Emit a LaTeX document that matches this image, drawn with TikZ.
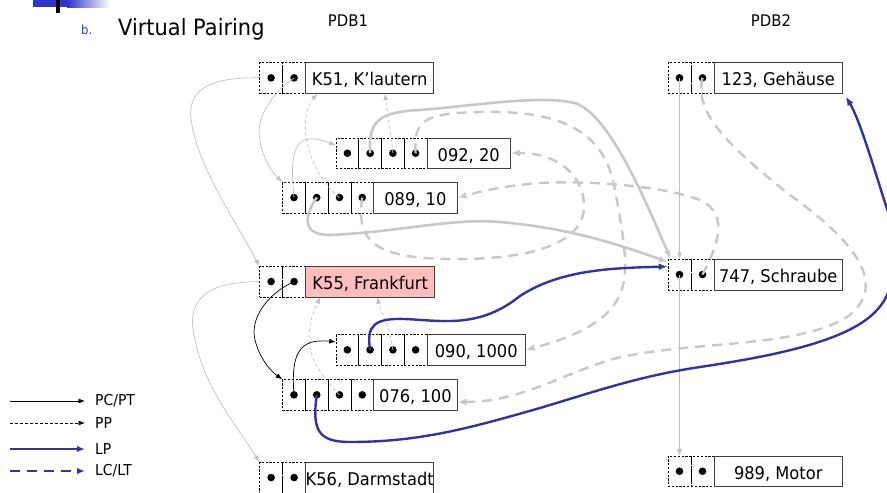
\documentclass[tikz,border=0pt]{standalone}
\usepackage{fontspec}
\setmainfont{DejaVu Sans}[FakeStretch=0.93]
\usetikzlibrary{arrows.meta}

\definecolor{lpblue}{RGB}{51,51,153}
\definecolor{hdblue}{RGB}{51,51,204}
\definecolor{thingray}{RGB}{192,192,192}
\definecolor{thickgray}{RGB}{200,200,200}
\definecolor{kpink}{RGB}{255,189,189}

\tikzset{
  cellbox/.style={draw=black, line width=0.6pt, dash pattern=on 2.2pt off 1.6pt,
    minimum height=30.5pt, inner sep=0pt, anchor=north west,
    path picture={\fill[black] (path picture bounding box.center) circle (3.8pt);}},
  labelbox/.style={draw=black!75, line width=0.8pt, minimum height=30.5pt,
    inner xsep=0pt, inner ysep=0pt, text height=16pt, text depth=0.6pt,
    anchor=north west, font=\fontsize{17.5}{20}\selectfont},
  thinarr/.style={-{Latex[length=6.5pt,width=5pt]}, line width=0.7pt},
  pcg/.style={thinarr, draw=thingray},
  ppg/.style={thinarr, draw=thingray, dash pattern=on 3.5pt off 2.5pt},
  pcb/.style={thinarr, draw=black},
  ppb/.style={thinarr, draw=black, dash pattern=on 3pt off 2pt},
  thickarr/.style={-{Latex[length=9pt,width=7pt]}, line width=2.4pt},
  lpg/.style={thickarr, draw=thickgray, line width=2.6pt},
  lcg/.style={thickarr, draw=thickgray, dash pattern=on 10pt off 7pt},
  lpb/.style={thickarr, draw=lpblue},
  lcb/.style={thickarr, draw=lpblue, dash pattern=on 10pt off 7pt},
  legtext/.style={anchor=west, inner sep=0pt, font=\fontsize{15}{18}\selectfont},
}

% record: [label fill]{name}{x}{top y}{cells}{cell width}{label width}{label}
\newcommand{\rec}[8][white]{%
  \foreach \i in {1,...,#5}{%
    \node[cellbox, minimum width=#6pt] (#2c\i) at ({#3+(\i-1)*#6},#4) {};
  }%
  \node[labelbox, fill=#1, minimum width=#7pt] (#2l) at ({#3+#5*#6},#4) {#8};
}

\begin{document}
\begin{tikzpicture}[x=1pt,y=-1pt]
\useasboundingbox (0,0) rectangle (887,493);

% header decoration
\fill[hdblue] (33,0) rectangle (67,7);
\shade[left color=hdblue, right color=white] (67,0) rectangle (110,7);
\fill[black] (56,0) rectangle (60,12.7);
\node[anchor=base west, inner sep=0pt, text=hdblue, font=\fontsize{12.5}{14}\selectfont] (bmark) at (81,34.5) {b.};
\node[anchor=base west, inner sep=0pt, font=\fontsize{22.5}{26}\selectfont] (title) at (118,35) {Virtual Pairing};
\node[anchor=base, inner sep=0pt, font=\fontsize{16}{18}\selectfont] (pdb1) at (348,26) {PDB1};
\node[anchor=base, inner sep=0pt, font=\fontsize{16}{18}\selectfont] (pdb2) at (771,26) {PDB2};

% records of PDB1
\rec{k51}{259.3}{62.3}{2}{23}{128}{K51, K’lautern}
\rec{r092}{335.7}{137.7}{4}{22.75}{83.3}{092, 20}
\rec{r089}{282.3}{182}{4}{22.75}{83.4}{089, 10}
\rec[kpink]{k55}{259.3}{266}{2}{23}{129}{K55, Frankfurt}
\rec{r090}{335.7}{334.3}{4}{22.75}{98.3}{090, 1000}
\rec{r076}{282.3}{379.3}{4}{22.75}{83.4}{076, 100}
\rec{k56}{259.3}{462}{2}{23}{128}{K56, Darmstadt}

% records of PDB2
\rec{r123}{667.7}{62.3}{2}{23}{128.3}{123, Gehäuse}
\rec{r747}{667.7}{259}{2}{23}{128.3}{747, Schraube}
\rec{r989}{667.7}{455.7}{2}{23}{128.3}{989, Motor}

% ---- faded PC/PT links
\draw[pcg] (k51c1.west) .. controls (205,77) and (185,92) .. (192,125)
  .. controls (200,170) and (235,220) .. (k55c1.north west);
\draw[pcg] (k51c2.center) .. controls (270,95) and (255,120) .. (260,140)
  .. controls (263,160) and (272,172) .. (r089c1.north west);
\draw[pcg] (r089c1.center) .. controls (288,140) and (300,132) .. ([yshift=8pt]r092c1.west);
\draw[pcg] (k55c1.west) .. controls (205,282) and (185,300) .. (195,340)
  .. controls (205,390) and (240,430) .. (k56c1.north west);
\draw[pcg] (r123c1.center) -- (r747c1.north);
\draw[pcg] (r747c1.center) -- (r989c1.north);

% ---- faded PP links
\draw[ppg] (r089c3.center) .. controls (310,175) and (295,120) .. ([xshift=12pt]k51l.south west);
\draw[ppg] (r092c3.center) .. controls (390,125) and (386,105) .. ([xshift=80pt]k51l.south west);
\draw[ppg] (r076c3.center) .. controls (310,365) and (300,340) .. ([xshift=15pt]k55l.south west);
\draw[ppg] (r090c3.center) .. controls (390,325) and (380,310) .. ([xshift=72pt]k55l.south west);

% ---- faded LP links
\draw[lpg] (r092c2.center) .. controls (368,120) and (380,112) .. (420,110)
  .. controls (480,105) and (540,95) .. (575,103)
  .. controls (610,115) and (645,200) .. ([xshift=3pt]r747c1.north west);
\draw[lpg] (r089c2.center) .. controls (305,215) and (300,235) .. (330,235)
  .. controls (400,232) and (450,218) .. (500,222)
  .. controls (570,228) and (620,245) .. ([yshift=-3pt]r747c1.north west);

% ---- faded LC/LT links
\draw[lcg] (r123c2.center) .. controls (695,110) and (720,140) .. (790,195)
  .. controls (860,245) and (885,285) .. (850,315)
  .. controls (800,350) and (680,340) .. (610,360)
  .. controls (560,375) and (520,402) .. ([yshift=-7pt]r076l.east);
\draw[lcg] (r747c2.center) .. controls (715,250) and (732,215) .. (700,200)
  .. controls (670,188) and (600,180) .. (540,183)
  .. controls (500,186) and (475,193) .. (r089l.east);
\draw[lcg] (r089c4.center) .. controls (355,245) and (380,258) .. (450,259)
  .. controls (540,260) and (585,240) .. (584,205)
  .. controls (583,170) and (550,152) .. (r092l.east);
\draw[lcg] (r092c4.center) .. controls (413,120) and (425,113) .. (480,112)
  .. controls (560,110) and (605,130) .. (615,190)
  .. controls (628,260) and (632,290) .. (605,315)
  .. controls (585,333) and (555,342) .. (r090l.east);

% ---- highlighted PC/PT path
\draw[pcb] (k55c2.center) .. controls (265,295) and (250,320) .. (255,340)
  .. controls (260,360) and (272,372) .. (r076c1.north west);
\draw[pcb] (r076c1.center) .. controls (291,355) and (298,338) .. ([yshift=8pt]r090c1.west);

% ---- highlighted LP links
\draw[lpb] (r090c2.center) .. controls (366,325) and (375,318) .. (405,319)
  .. controls (445,321) and (480,328) .. (520,296)
  .. controls (560,270) and (610,268) .. ([yshift=8pt]r747c1.west);
\draw[lpb] (r076c2.center) .. controls (312,430) and (318,442) .. (350,442)
  .. controls (420,442) and (470,428) .. (540,408)
  .. controls (600,390) and (640,376) .. (700,367)
  .. controls (780,355) and (850,340) .. (877,310)
  .. controls (898,288) and (902,240) .. (888,212)
  .. controls (876,175) and (860,120) .. ([xshift=3pt,yshift=-3pt]r123l.south east);

% ---- legend
\coordinate (lgaA) at (10,401);  \coordinate (lgaB) at (85,401);
\coordinate (lgbA) at (10,423);  \coordinate (lgbB) at (85,423);
\coordinate (lgcA) at (10,449);  \coordinate (lgcB) at (85,449);
\coordinate (lgdA) at (10,471);  \coordinate (lgdB) at (85,471);
\draw[pcb] (lgaA) -- (lgaB);
\draw[ppb] (lgbA) -- (lgbB);
\draw[lpb, line width=2.2pt, -{Latex[length=8pt,width=6.5pt]}] (lgcA) -- (lgcB);
\draw[lcb, line width=2.2pt, -{Latex[length=8pt,width=6.5pt]}] (lgdA) -- (lgdB);
\node[legtext] (lgta) at (95,401) {PC/PT};
\node[legtext] (lgtb) at (95,423) {PP};
\node[legtext] (lgtc) at (95,449) {LP};
\node[legtext] (lgtd) at (95,471) {LC/LT};
\end{tikzpicture}
\end{document}
